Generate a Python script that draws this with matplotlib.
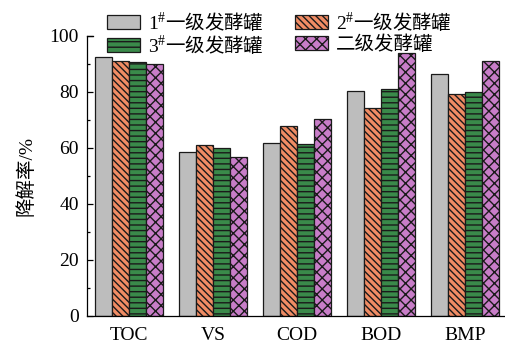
import numpy as np
import matplotlib
matplotlib.use("Agg")
import matplotlib.pyplot as plt
from matplotlib.ticker import MultipleLocator

plt.rcParams['font.family'] = ['Liberation Serif', 'Noto Sans CJK SC']
plt.rcParams['mathtext.fontset'] = 'custom'
plt.rcParams['mathtext.rm'] = 'Liberation Serif'
plt.rcParams['mathtext.it'] = 'Liberation Serif'
plt.rcParams['mathtext.default'] = 'rm'

# data
categories = ['TOC', 'VS', 'COD', 'BOD', 'BMP']
tank1 = [92.4, 58.5, 61.9, 80.2, 86.5]
tank2 = [91.2, 61.2, 67.7, 74.2, 79.4]
tank3 = [90.6, 60.1, 61.4, 81.2, 80.1]
tank_second = [89.9, 56.7, 70.2, 93.8, 91.0]

series = [
    ('$1^{\\#}$一级发酵罐', tank1, '#bdbdbd', ''),
    ('$2^{\\#}$一级发酵罐', tank2, '#f08c64', '\\\\\\\\\\'),
    ('$3^{\\#}$一级发酵罐', tank3, '#3a8a4a', '---'),
    ('二级发酵罐', tank_second, '#c87dc8', 'xxx'),
]

fig = plt.figure(figsize=(5.05, 3.45), dpi=100)
ax = fig.add_axes([87 / 505, 29 / 345, 1 - 87 / 505, 280 / 345])

x = np.arange(len(categories))
w = 0.2024
handles = []
for i, (label, vals, color, hatch) in enumerate(series):
    b = ax.bar(x + (i - 1.5) * w, vals, w, color=color, edgecolor='#1a1a1a',
               linewidth=0.9, hatch=hatch, label=label)
    handles.append(b)

ax.set_xlim(-0.5, 4.476)
ax.set_ylim(0, 100)
ax.set_xticks(x)
ax.set_xticklabels(categories, fontsize=14)
ax.tick_params(axis='x', length=0, pad=8)
ax.yaxis.set_major_locator(MultipleLocator(20))
ax.yaxis.set_minor_locator(MultipleLocator(10))
ax.tick_params(axis='y', which='major', direction='in', length=4, width=0.9,
               labelsize=14, pad=6)
ax.tick_params(axis='y', which='minor', direction='in', length=2.5, width=0.9)
ax.set_ylabel('降解率/%', fontsize=14, labelpad=10)

ax.spines['right'].set_visible(False)
ax.spines['top'].set_bounds(-0.5, -0.5 + 6 / 84)
for s in ax.spines.values():
    s.set_linewidth(0.9)

# legend columns: 1#, 3# on the left, 2#, 二级 on the right
order = [0, 2, 1, 3]
leg = fig.legend([handles[k] for k in order], [series[k][0] for k in order],
                 loc='upper left', bbox_to_anchor=(107 / 505, 1 - 11 / 345),
                 ncol=2, frameon=False, borderpad=0, borderaxespad=0,
                 handlelength=1.7, handleheight=0.75, handletextpad=0.4,
                 columnspacing=1.6, labelspacing=0.0,
                 prop={'family': 'Noto Sans CJK SC', 'size': 14})

fig.savefig('out.png', dpi=100)
